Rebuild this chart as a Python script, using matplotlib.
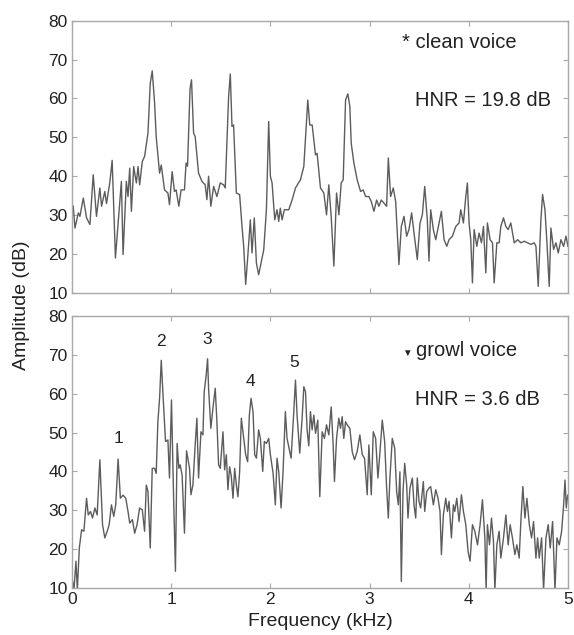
import matplotlib
matplotlib.use("Agg")
import matplotlib.pyplot as plt

plt.rcParams['font.family'] = ['Liberation Sans', 'DejaVu Sans']

# spectrum of the clean voice (kHz, dB)
clean_freq = [0.013, 0.03, 0.064, 0.08, 0.114, 0.147, 0.181, 0.214, 0.247, 0.281, 0.298, 0.331, 0.348,
              0.381, 0.405, 0.438, 0.465, 0.498, 0.515, 0.548, 0.565, 0.582, 0.599, 0.622, 0.649, 0.666,
              0.682, 0.709, 0.732, 0.766, 0.789, 0.809, 0.833, 0.849, 0.883, 0.9, 0.933, 0.967, 0.983,
              1.01, 1.033, 1.05, 1.077, 1.1, 1.134, 1.15, 1.165, 1.19, 1.205, 1.226, 1.242, 1.276, 1.31,
              1.343, 1.36, 1.377, 1.4, 1.428, 1.461, 1.495, 1.529, 1.545, 1.562, 1.579, 1.596, 1.613,
              1.629, 1.657, 1.69, 1.714, 1.731, 1.751, 1.771, 1.798, 1.815, 1.838, 1.859, 1.882, 1.906,
              1.933, 1.96, 1.983, 2.0, 2.017, 2.044, 2.067, 2.084, 2.1, 2.118, 2.141, 2.185, 2.219,
              2.253, 2.303, 2.337, 2.364, 2.377, 2.397, 2.421, 2.455, 2.471, 2.505, 2.539, 2.566, 2.589,
              2.613, 2.64, 2.667, 2.691, 2.714, 2.734, 2.758, 2.781, 2.801, 2.815, 2.842, 2.875, 2.909,
              2.936, 2.96, 2.993, 3.017, 3.044, 3.071, 3.094, 3.118, 3.145, 3.172, 3.189, 3.212, 3.239,
              3.263, 3.296, 3.32, 3.347, 3.374, 3.397, 3.424, 3.448, 3.481, 3.508, 3.532, 3.556, 3.582,
              3.599, 3.616, 3.643, 3.667, 3.7, 3.724, 3.751, 3.778, 3.801, 3.835, 3.869, 3.902, 3.919,
              3.946, 3.97, 3.986, 4.003, 4.02, 4.037, 4.054, 4.081, 4.104, 4.128, 4.148, 4.172, 4.188,
              4.215, 4.239, 4.256, 4.283, 4.306, 4.323, 4.35, 4.374, 4.397, 4.424, 4.458, 4.492, 4.525,
              4.559, 4.593, 4.626, 4.66, 4.677, 4.7, 4.727, 4.744, 4.768, 4.788, 4.811, 4.828, 4.855,
              4.879, 4.902, 4.929, 4.956, 4.98, 5.0]
clean_db = [32.3, 26.7, 30.6, 29.7, 34.4, 29.3, 27.6, 40.4, 29.7, 37.0, 32.3, 36.1, 33.0,
            38.3, 44.1, 19.0, 28.0, 38.7, 19.9, 38.7, 34.8, 42.1, 31.0, 42.5, 38.3, 42.5,
            37.8, 43.8, 45.1, 51.1, 63.9, 67.1, 58.8, 50.2, 40.8, 42.9, 36.5, 35.7, 32.7,
            41.2, 36.1, 36.5, 32.3, 36.5, 36.5, 43.4, 42.6, 62.5, 64.8, 51.1, 50.2, 40.8, 38.7,
            37.8, 34.0, 40.0, 32.3, 37.4, 34.8, 38.3, 37.8, 37.0, 48.5, 60.5, 66.3, 52.8,
            53.2, 35.7, 35.3, 27.1, 22.0, 12.2, 19.0, 28.8, 20.3, 29.3, 17.7, 14.7, 17.7,
            21.1, 31.4, 54.1, 40.0, 38.3, 28.8, 31.4, 28.4, 31.8, 28.8, 31.4, 31.4, 33.9,
            37.0, 39.1, 42.5, 54.0, 59.6, 53.2, 53.2, 45.5, 45.9, 37.0, 35.7, 30.1, 37.8,
            29.7, 16.9, 35.7, 30.1, 38.3, 39.1, 59.6, 61.2, 58.0, 48.5, 43.4, 39.1, 36.1,
            36.5, 34.8, 34.8, 33.5, 31.0, 33.9, 32.3, 33.9, 33.1, 32.3, 44.7, 34.8, 37.0,
            33.5, 17.3, 27.1, 29.7, 24.6, 26.3, 30.6, 25.4, 18.6, 27.9, 30.1, 37.4, 28.8,
            18.2, 31.4, 26.3, 23.7, 28.0, 31.0, 23.7, 22.0, 23.7, 24.6, 27.1, 28.0, 31.4,
            28.0, 34.8, 38.3, 28.0, 23.7, 12.6, 26.3, 22.0, 25.4, 22.9, 27.1, 15.2, 28.0,
            23.7, 22.9, 12.6, 22.9, 22.9, 27.1, 29.3, 27.1, 26.3, 28.0, 22.9, 23.7, 22.9,
            23.3, 22.9, 22.5, 22.9, 22.0, 11.7, 28.8, 35.3, 31.4, 22.9, 11.7, 26.7, 21.2,
            22.9, 20.3, 23.7, 22.0, 24.6, 22.0]

# spectrum of the growl voice
growl_freq = [0.007, 0.02, 0.04, 0.054, 0.074, 0.097, 0.12, 0.147, 0.164, 0.187, 0.207, 0.231, 0.254,
              0.281, 0.308, 0.331, 0.355, 0.375, 0.398, 0.421, 0.441, 0.465, 0.488, 0.515, 0.542, 0.565,
              0.582, 0.609, 0.632, 0.656, 0.682, 0.709, 0.732, 0.749, 0.766, 0.789, 0.809, 0.833, 0.849,
              0.866, 0.883, 0.9, 0.916, 0.943, 0.967, 0.983, 1.003, 1.023, 1.043, 1.06, 1.077, 1.09,
              1.11, 1.134, 1.155, 1.185, 1.199, 1.219, 1.242, 1.259, 1.276, 1.3, 1.32, 1.333, 1.353,
              1.367, 1.377, 1.4, 1.421, 1.444, 1.461, 1.478, 1.495, 1.522, 1.539, 1.556, 1.572, 1.589,
              1.606, 1.623, 1.64, 1.657, 1.673, 1.69, 1.707, 1.731, 1.751, 1.771, 1.788, 1.805, 1.825,
              1.842, 1.859, 1.882, 1.899, 1.923, 1.939, 1.96, 1.983, 2.0, 2.027, 2.05, 2.067, 2.084,
              2.108, 2.128, 2.151, 2.168, 2.188, 2.209, 2.236, 2.253, 2.269, 2.296, 2.32, 2.337, 2.354,
              2.37, 2.387, 2.404, 2.421, 2.438, 2.455, 2.478, 2.498, 2.522, 2.545, 2.566, 2.589, 2.613,
              2.633, 2.646, 2.667, 2.69, 2.707, 2.724, 2.74, 2.758, 2.774, 2.801, 2.825, 2.848, 2.875,
              2.902, 2.926, 2.949, 2.976, 2.993, 3.017, 3.037, 3.061, 3.084, 3.105, 3.128, 3.152, 3.172,
              3.189, 3.205, 3.229, 3.253, 3.273, 3.29, 3.306, 3.32, 3.337, 3.354, 3.374, 3.387, 3.407,
              3.431, 3.448, 3.465, 3.481, 3.498, 3.515, 3.542, 3.556, 3.576, 3.599, 3.616, 3.643, 3.667,
              3.69, 3.71, 3.724, 3.744, 3.768, 3.785, 3.801, 3.825, 3.845, 3.859, 3.879, 3.902, 3.926,
              3.946, 3.97, 3.993, 4.013, 4.037, 4.061, 4.088, 4.114, 4.138, 4.162, 4.175, 4.188, 4.209,
              4.229, 4.249, 4.263, 4.283, 4.306, 4.323, 4.35, 4.374, 4.397, 4.417, 4.44, 4.465, 4.485,
              4.508, 4.525, 4.545, 4.566, 4.586, 4.61, 4.633, 4.653, 4.677, 4.694, 4.71, 4.734, 4.754,
              4.778, 4.801, 4.821, 4.845, 4.869, 4.889, 4.912, 4.936, 4.956, 4.97, 4.983, 4.997]
growl_db = [11.7, 9.5, 16.9, 9.5, 20.3, 25.0, 24.6, 33.1, 28.8, 29.7, 28.0, 30.6, 28.8,
            43.0, 26.3, 22.9, 24.6, 26.3, 31.4, 28.4, 31.4, 43.2, 33.1, 33.9, 33.1, 29.7,
            26.7, 27.6, 24.1, 26.3, 30.6, 30.1, 24.6, 36.5, 34.8, 20.3, 40.8, 40.8, 39.5,
            52.8, 58.8, 68.6, 60.5, 47.7, 48.1, 38.3, 58.4, 34.8, 14.3, 47.2, 40.8, 41.7,
            39.1, 24.1, 45.3, 40.8, 34.0, 36.5, 46.8, 53.7, 38.3, 50.2, 49.4, 60.5, 64.8,
            69.0, 61.4, 51.1, 56.3, 61.4, 52.8, 41.7, 40.8, 50.2, 40.4, 44.3, 35.3, 41.2,
            38.7, 33.1, 40.8, 36.5, 33.5, 39.9, 53.7, 48.5, 44.3, 42.5, 54.5, 58.8, 55.4,
            44.3, 43.4, 50.7, 48.5, 40.0, 47.7, 47.2, 48.5, 44.3, 39.6, 31.4, 43.4, 40.0,
            30.6, 40.0, 55.4, 48.5, 46.0, 43.4, 55.4, 63.5, 54.5, 44.7, 53.7, 61.8, 60.5,
            50.7, 46.6, 55.4, 50.7, 54.5, 49.8, 53.2, 33.5, 50.2, 48.5, 52.0, 49.4, 56.6,
            46.8, 37.4, 48.5, 53.7, 51.1, 54.1, 48.5, 52.8, 52.0, 51.1, 45.1, 43.0, 45.1,
            49.4, 44.3, 43.4, 34.0, 46.8, 34.0, 50.2, 48.5, 38.3, 45.1, 53.2, 47.7, 35.7,
            28.0, 38.3, 48.5, 46.0, 34.8, 31.4, 39.9, 11.7, 34.8, 42.1, 36.5, 28.0, 35.7,
            38.3, 31.4, 28.0, 38.3, 32.3, 30.6, 37.4, 29.7, 34.8, 35.7, 36.1, 31.4, 35.3,
            33.1, 29.7, 18.6, 28.8, 33.1, 29.7, 32.3, 22.9, 31.4, 29.7, 33.1, 27.1, 34.0,
            29.7, 26.3, 19.4, 16.9, 26.3, 24.6, 21.1, 26.3, 32.7, 22.9, 9.5, 26.3, 21.1,
            28.0, 22.0, 9.5, 21.1, 24.6, 17.7, 22.9, 28.8, 21.1, 26.3, 22.9, 18.6, 21.1,
            17.7, 27.1, 36.1, 28.0, 33.1, 26.3, 22.9, 27.1, 17.7, 22.9, 17.7, 22.9, 9.5,
            22.9, 26.3, 20.3, 27.1, 9.5, 22.9, 21.1, 24.6, 31.4, 37.8, 30.6, 33.9]

# harmonic numbers on the growl spectrum
peak_labels = ['1', '2', '3', '4', '5']
peak_freq = [0.465, 0.893, 1.36, 1.80, 2.24]
peak_db = [46.5, 71.5, 72.0, 61.3, 66.2]

yticks = [10, 20, 30, 40, 50, 60, 70, 80]
xticks = [0, 1, 2, 3, 4, 5]

line_color = '#5c5c5c'
frame_color = '#a8a8a8'
text_color = '#222222'

fig = plt.figure(figsize=(5.74, 6.35), dpi=100)
ax1 = fig.add_axes([0.1254, 0.5386, 0.8641, 0.4288])
ax2 = fig.add_axes([0.1254, 0.0740, 0.8641, 0.4284])

for ax in (ax1, ax2):
    ax.set_xlim(0, 5)
    ax.set_ylim(10, 80)
    ax.set_xticks(xticks)
    ax.set_yticks(yticks)
    ax.tick_params(direction='in', top=True, right=True, length=3.5, width=0.8,
                   color=frame_color, labelcolor=text_color, labelsize=12.5, pad=3)
    for s in ax.spines.values():
        s.set_color(frame_color)
        s.set_linewidth(1.0)

ax1.tick_params(labelbottom=False)

ax1.plot(clean_freq, clean_db, color=line_color, lw=1.0)
ax2.plot(growl_freq, growl_db, color=line_color, lw=1.0)

ax1.text(3.33, 74.5, '* clean voice', fontsize=14.5, color=text_color, va='center')
ax1.text(3.46, 59.6, 'HNR = 19.8 dB', fontsize=14.5, color=text_color, va='center')

ax2.text(3.33, 70.5, '\u25bc', fontsize=7, color=text_color, va='center', ha='left')
ax2.text(3.47, 71.0, 'growl voice', fontsize=14.5, color=text_color, va='center')
ax2.text(3.46, 58.4, 'HNR = 3.6 dB', fontsize=14.5, color=text_color, va='center')

for lab, f, d in zip(peak_labels, peak_freq, peak_db):
    ax2.text(f, d, lab, fontsize=12.5, color=text_color, ha='center', va='bottom')

ax2.set_xlabel('Frequency (kHz)', fontsize=14, color=text_color, labelpad=4)
fig.text(0.038, 0.52, 'Amplitude (dB)', rotation=90, fontsize=14, color=text_color,
         ha='center', va='center')

fig.savefig('out.png', dpi=100)
